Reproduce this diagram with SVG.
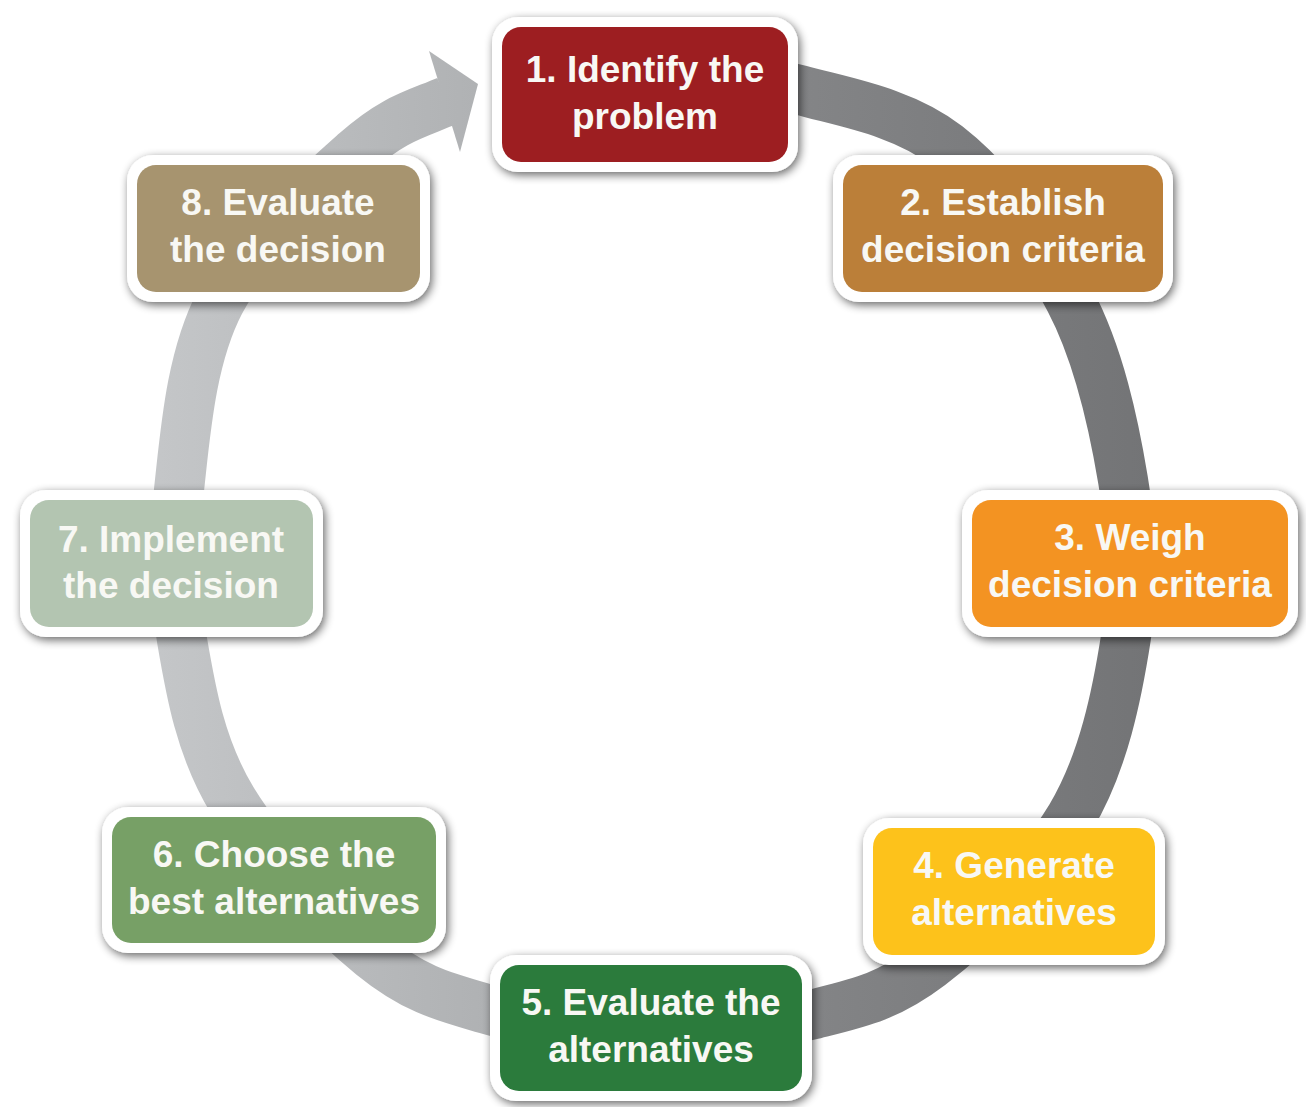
<svg xmlns="http://www.w3.org/2000/svg" width="1306" height="1107" viewBox="0 0 1306 1107">
<defs>
<linearGradient id="ringGrad" gradientUnits="userSpaceOnUse" x1="160" y1="0" x2="1150" y2="0">
<stop offset="0" stop-color="#c4c6c8"/>
<stop offset="0.35" stop-color="#aeb0b2"/>
<stop offset="0.62" stop-color="#858688"/>
<stop offset="1" stop-color="#737476"/>
</linearGradient>
<filter id="shadow" x="-15%" y="-25%" width="130%" height="150%">
<feGaussianBlur in="SourceAlpha" stdDeviation="5"/>
<feOffset dx="2" dy="3" result="b"/>
<feComponentTransfer><feFuncA type="linear" slope="0.6"/></feComponentTransfer>
<feMerge><feMergeNode/><feMergeNode in="SourceGraphic"/></feMerge>
</filter>
</defs>
<style>
.frame{fill:#ffffff;filter:url(#shadow);}
.label{font-family:"Liberation Sans",Arial,sans-serif;font-weight:bold;font-size:37px;fill:#f8f8f4;text-anchor:middle;}
.ring{fill:none;stroke:url(#ringGrad);stroke-width:50;}
</style>
<rect width="1306" height="1107" fill="#ffffff"/>
<g id="connectors">
<path class="ring" d="M700,76 C733.3,79 758.8,78.3 800,90 C841.2,101.7 902,111 947,146 C992,181 1040.7,244.3 1070,300 C1099.3,355.7 1113.7,423.8 1123,480 C1132.3,536.2 1134.7,580.8 1126,637 C1117.3,693.2 1103.7,762.3 1071,817 C1038.3,871.7 973.5,932 930,965 C886.5,998 856.7,1003.3 810,1015 C763.3,1026.7 703.3,1035.8 650,1035 C596.7,1034.2 536.3,1023.3 490,1010 C443.7,996.7 415,990 372,955 C329,920 263.7,852.5 232,800 C200.3,747.5 190.8,691.7 182,640 C173.2,588.3 172.7,546.3 179,490 C185.3,433.7 190.5,358.3 220,302 C249.5,245.7 318.5,185.3 356,152 C393.5,118.7 414.2,114.8 447,101"/>
<polygon points="429,51 478,84 460,152" fill="url(#ringGrad)"/>
</g>
<g id="node1">
<rect class="frame" x="492" y="17" width="306" height="155" rx="26"/>
<rect x="502" y="27" width="286" height="135" rx="19" fill="#9d1e21"/>
<text class="label" x="645" y="82">1. Identify the</text>
<text class="label" x="645" y="129">problem</text>
</g>
<g id="node2">
<rect class="frame" x="833" y="155" width="340" height="147" rx="26"/>
<rect x="843" y="165" width="320" height="127" rx="19" fill="#bb7f39"/>
<text class="label" x="1003" y="215">2. Establish</text>
<text class="label" x="1003" y="262">decision criteria</text>
</g>
<g id="node3">
<rect class="frame" x="962" y="490" width="336" height="147" rx="26"/>
<rect x="972" y="500" width="316" height="127" rx="19" fill="#f39322"/>
<text class="label" x="1130" y="550">3. Weigh</text>
<text class="label" x="1130" y="597">decision criteria</text>
</g>
<g id="node4">
<rect class="frame" x="863" y="818" width="302" height="147" rx="26"/>
<rect x="873" y="828" width="282" height="127" rx="19" fill="#fdc21b"/>
<text class="label" x="1014" y="878">4. Generate</text>
<text class="label" x="1014" y="925">alternatives</text>
</g>
<g id="node5">
<rect class="frame" x="490" y="955" width="322" height="146" rx="26"/>
<rect x="500" y="965" width="302" height="126" rx="19" fill="#2b7b3c"/>
<text class="label" x="651" y="1015">5. Evaluate the</text>
<text class="label" x="651" y="1062">alternatives</text>
</g>
<g id="node6">
<rect class="frame" x="102" y="807" width="344" height="146" rx="26"/>
<rect x="112" y="817" width="324" height="126" rx="19" fill="#77a066"/>
<text class="label" x="274" y="867">6. Choose the</text>
<text class="label" x="274" y="914">best alternatives</text>
</g>
<g id="node7">
<rect class="frame" x="20" y="490" width="303" height="147" rx="26"/>
<rect x="30" y="500" width="283" height="127" rx="19" fill="#b3c5b1"/>
<text class="label" x="171" y="552">7. Implement</text>
<text class="label" x="171" y="598">the decision</text>
</g>
<g id="node8">
<rect class="frame" x="127" y="155" width="303" height="147" rx="26"/>
<rect x="137" y="165" width="283" height="127" rx="19" fill="#a7946f"/>
<text class="label" x="278" y="215">8. Evaluate</text>
<text class="label" x="278" y="262">the decision</text>
</g>
</svg>
